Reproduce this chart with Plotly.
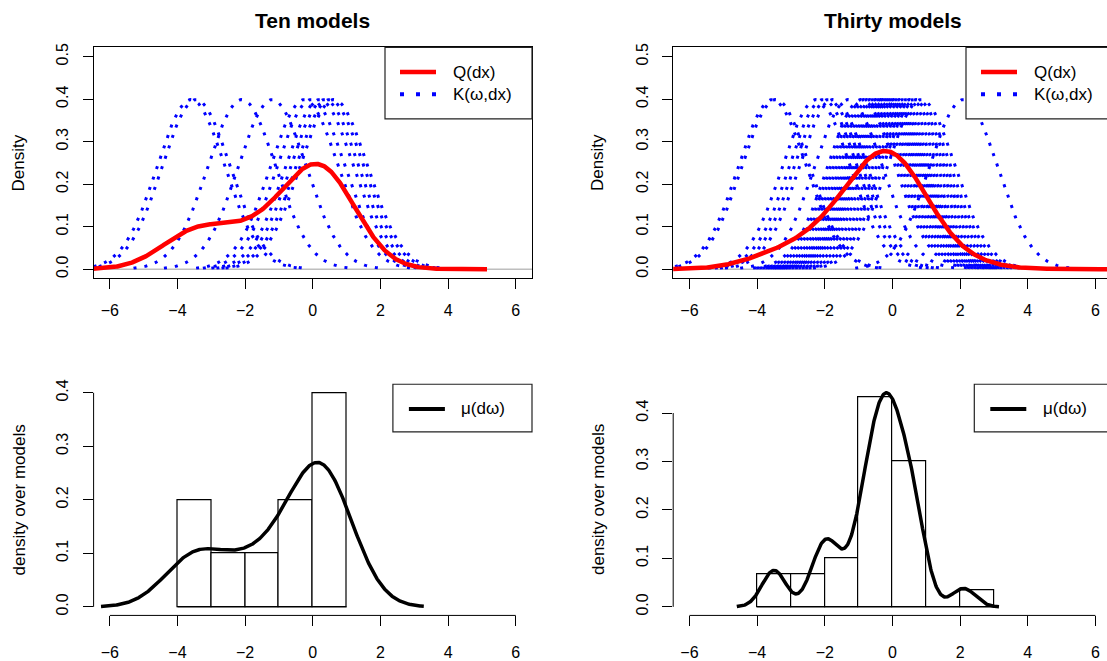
import numpy as np
import plotly.graph_objects as go

# ---- data -------------------------------------------------------------
# locations ω of the individual models
omega_ten = [-3.6, -3.45, -2.1, -1.2, -0.25, -0.05, 0.2, 0.35, 0.5, 0.62]
omega_thirty = [-3.55, -3.45, -2.25, -2.05, -1.9, -1.75, -1.3,
                -0.92, -0.83, -0.74, -0.65, -0.56, -0.48, -0.4, -0.33, -0.27,
                -0.2, -0.14, -0.08, -0.02,
                0.05, 0.13, 0.22, 0.32, 0.42, 0.52, 0.62, 0.72, 0.85, 2.1]
kernel_sd = 1.0                      # K(ω,dx) = N(ω, 1)
kde_bw_ten = 0.887                   # bandwidth of μ(dω), ten models
kde_bw_thirty = 0.35                 # bandwidth of μ(dω), thirty models
hist_breaks_ten = [-4, -3, -2, -1, 0, 1]
hist_breaks_thirty = [-4, -3, -2, -1, 0, 1, 2, 3]
q_span_ten = (-6.5, 5.15)
q_span_thirty = (-6.5, 7.0)
k_halfwidth = 3.2
x_ticks = [-6, -4, -2, 0, 2, 4, 6]
y_ticks_top = [0.0, 0.1, 0.2, 0.3, 0.4, 0.5]
y_ticks_bottom = [0.0, 0.1, 0.2, 0.3, 0.4]
titles = ["Ten models", "Thirty models"]

# ---- page geometry (pixels) ------------------------------------------
W, H = 1107, 661
FONT = "Arial, 'Liberation Sans', sans-serif"
RED, BLUE = "#FF0000", "#0000FF"


def px(x):
    return x / W


def py(y):
    return 1 - y / H


def npdf(x, m, s):
    return np.exp(-0.5 * ((x - m) / s) ** 2) / (s * np.sqrt(2 * np.pi))


def kde(values, bw, n=512):
    v = np.asarray(values)
    g = np.linspace(v.min() - 3 * bw, v.max() + 3 * bw, n)
    d = npdf(g[:, None], v[None, :], bw).mean(axis=1)
    return g, d


fig = go.Figure()

panels = [
    # (omega, bw, breaks, q_span, plot-left px, plot-right px, x range)
    (omega_ten, kde_bw_ten, hist_breaks_ten, q_span_ten, 93.6, 532.0, [-6.48, 6.48]),
    (omega_thirty, kde_bw_thirty, hist_breaks_thirty, q_span_thirty, 673.2, 1107.0,
     [-6.48, -6.48 + (1107.0 - 673.2) / 33.83]),
]
TOP = (42.7, 276.0)
BOT = (382.7, 616.0)

shapes, annots = [], []

for i, (om, bw, breaks, qspan, left, right, xr) in enumerate(panels):
    xt, yt = ("x", "y") if i == 0 else ("x2", "y2")
    xb, yb = ("x3", "y3") if i == 0 else ("x4", "y4")

    # -- top: kernels K(ω,dx) and their mixture Q(dx)
    for m in om:
        xs = np.linspace(m - k_halfwidth, m + k_halfwidth, 220)
        fig.add_trace(go.Scatter(x=xs, y=npdf(xs, m, kernel_sd), mode="lines",
                                 line=dict(color=BLUE, width=3, dash="3px,8px"),
                                 xaxis=xt, yaxis=yt, showlegend=False, hoverinfo="skip"))
    xq = np.linspace(qspan[0], qspan[1], 600)
    q = npdf(xq[:, None], np.asarray(om)[None, :], kernel_sd).mean(axis=1)
    fig.add_trace(go.Scatter(x=xq, y=q, mode="lines", line=dict(color=RED, width=4.5),
                             xaxis=xt, yaxis=yt, showlegend=False, hoverinfo="skip"))

    # -- bottom: histogram of ω and density μ(dω)
    counts, edges = np.histogram(om, bins=breaks)
    dens = counts / (len(om) * np.diff(edges))
    centers = (edges[:-1] + edges[1:]) / 2
    fig.add_trace(go.Scatter(x=[edges[0], edges[-1]], y=[0, 0], mode="lines",
                             line=dict(color="black", width=1),
                             xaxis=xb, yaxis=yb, showlegend=False, hoverinfo="skip"))
    fig.add_trace(go.Bar(x=centers, y=dens, width=np.diff(edges),
                         marker=dict(color="white", line=dict(color="black", width=1.2)),
                         xaxis=xb, yaxis=yb, showlegend=False, hoverinfo="skip"))
    gx, gd = kde(om, bw)
    fig.add_trace(go.Scatter(x=gx, y=gd, mode="lines", line=dict(color="black", width=3.5),
                             xaxis=xb, yaxis=yb, showlegend=False, hoverinfo="skip"))
    ymax = max(dens.max(), gd.max())

    # -- axes
    common = dict(showgrid=False, zeroline=False, ticks="outside", ticklen=10,
                  tickwidth=1, tickcolor="black", linecolor="black", linewidth=1,
                  tickfont=dict(family=FONT, size=16, color="black"))
    dom_x = [px(left), px(right)]
    sfx_t = "" if i == 0 else "2"
    sfx_b = "3" if i == 0 else "4"
    fig.update_layout({
        f"xaxis{sfx_t}": dict(common, domain=dom_x, range=xr, tickvals=x_ticks,
                              anchor=yt, showline=True, mirror=True, ticklabelstandoff=7),
        f"yaxis{sfx_t}": dict(common, domain=[py(TOP[1]), py(TOP[0])], range=[-0.022, 0.522],
                              tickvals=y_ticks_top, ticktext=[f"{v:.1f}" for v in y_ticks_top],
                              anchor=xt, showline=True, mirror=(i == 0), tickangle=-90,
                              ticklabelstandoff=8),
        f"xaxis{sfx_b}": dict(common, domain=dom_x, range=xr, tickvals=x_ticks,
                              anchor=yb, showline=False, ticklabelstandoff=12),
        f"yaxis{sfx_b}": dict(common, domain=[py(BOT[1]), py(BOT[0])],
                              range=[-0.04 * ymax, 1.04 * ymax],
                              tickvals=y_ticks_bottom,
                              ticktext=[f"{v:.1f}" for v in y_ticks_bottom],
                              anchor=xb, showline=False, tickangle=-90, ticklabelstandoff=8),
    })

    # zero reference line in the top panel
    shapes.append(dict(type="line", xref=f"{xt} domain", x0=0, x1=1, yref=yt, y0=0, y1=0,
                       line=dict(color="#BEBEBE", width=1.5), layer="below"))
    # bottom axis lines spanning the tick range
    shapes.append(dict(type="line", xref=xb, x0=x_ticks[0], x1=x_ticks[-1], yref="paper",
                       y0=py(BOT[1]), y1=py(BOT[1]), line=dict(color="black", width=1)))
    shapes.append(dict(type="line", xref="paper", x0=px(left), x1=px(left), yref=yb,
                       y0=y_ticks_bottom[0], y1=y_ticks_bottom[-1],
                       line=dict(color="black", width=1)))

    # titles and axis titles
    cx = (left + (right if i == 0 else 1112.0)) / 2
    annots.append(dict(text=f"<b>{titles[i]}</b>", x=px(cx), y=py(15.5), xref="paper",
                       yref="paper", showarrow=False, xanchor="center", yanchor="middle",
                       font=dict(family=FONT, size=21, color="black")))
    annots.append(dict(text="Density", x=px(left - 75), y=py(sum(TOP) / 2), xref="paper",
                       yref="paper", showarrow=False, textangle=-90, xanchor="center",
                       yanchor="middle", font=dict(family=FONT, size=17, color="black")))
    annots.append(dict(text="density over models", x=px(left - 74), y=py(sum(BOT) / 2),
                       xref="paper", yref="paper", showarrow=False, textangle=-90,
                       xanchor="center", yanchor="middle",
                       font=dict(family=FONT, size=17, color="black")))

    # legends (top right of each plot region)
    lx = 385.0 if i == 0 else 966.0
    lr = 532.0 if i == 0 else 1112.0
    shapes.append(dict(type="rect", xref="paper", yref="paper", x0=px(lx), x1=px(lr),
                       y0=py(115.0), y1=py(42.7), line=dict(color="#222222", width=1.2),
                       fillcolor="white", layer="above"))
    shapes.append(dict(type="line", xref="paper", yref="paper", x0=px(lx + 15), x1=px(lx + 51),
                       y0=py(67.7), y1=py(67.7), line=dict(color=RED, width=4.5)))
    shapes.append(dict(type="line", xref="paper", yref="paper", x0=px(lx + 15), x1=px(lx + 51),
                       y0=py(90.0), y1=py(90.0), line=dict(color=BLUE, width=4, dash="4px,12px")))
    for txt, yy in (("Q(dx)", 67.7), ("K(ω,dx)", 90.0)):
        annots.append(dict(text=txt, x=px(lx + 65.7), y=py(yy), xref="paper", yref="paper",
                           showarrow=False, xanchor="left", yanchor="middle",
                           font=dict(family=FONT, size=17, color="black")))

    bx = 392.9 if i == 0 else 974.3
    shapes.append(dict(type="rect", xref="paper", yref="paper", x0=px(bx), x1=px(lr),
                       y0=py(430.7), y1=py(382.7), line=dict(color="#222222", width=1.2),
                       fillcolor="white", layer="above"))
    shapes.append(dict(type="line", xref="paper", yref="paper", x0=px(bx + 16), x1=px(bx + 52),
                       y0=py(407.7), y1=py(407.7), line=dict(color="black", width=4)))
    annots.append(dict(text="μ(dω)", x=px(bx + 66.5), y=py(407.7), xref="paper", yref="paper",
                       showarrow=False, xanchor="left", yanchor="middle",
                       font=dict(family=FONT, size=17, color="black")))

fig.update_layout(width=W, height=H, margin=dict(l=0, r=0, t=0, b=0),
                  paper_bgcolor="white", plot_bgcolor="white",
                  shapes=shapes, annotations=annots, bargap=0, showlegend=False)

fig.write_html("out.html")
